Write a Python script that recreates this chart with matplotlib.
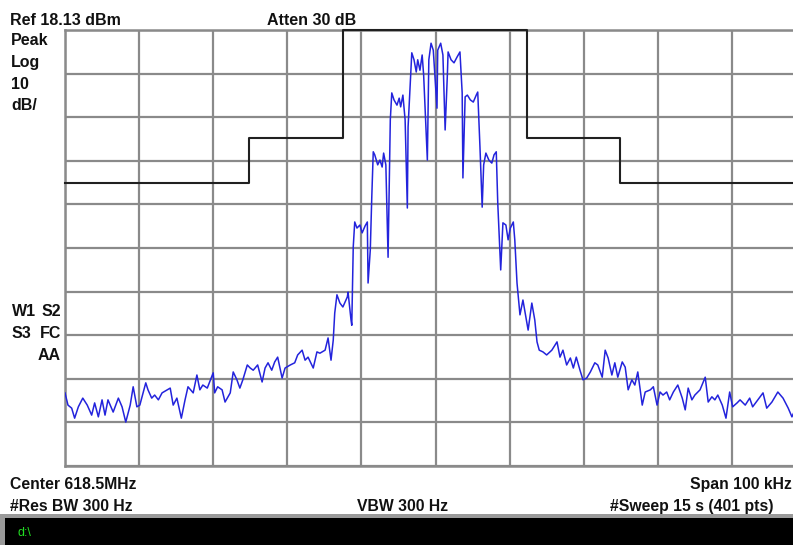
import matplotlib
import matplotlib.pyplot as plt
from matplotlib.patches import Rectangle

matplotlib.use("Agg")

# display settings of the analyser
ref_dbm = 18.13
db_per_div = 10
span_khz = 100

# trace readings (offset from centre in kHz, level in dBm)
left_floor_khz = [
    -50.0, -49.6, -49.1, -48.7, -48.2, -47.6, -47.0, -46.4, -46.0, -45.5, -45.0, -44.6, -44.2,
    -43.5, -42.8, -42.3, -41.8, -41.2, -40.8, -40.3, -39.9, -39.1, -38.8, -38.3, -37.9, -37.4,
    -36.9, -36.2, -35.8, -35.4, -34.9, -34.3, -33.8, -33.4, -32.7, -32.2, -31.8, -31.4, -30.8,
    -30.0, -29.8, -29.4, -28.8, -28.4, -27.7, -27.3, -26.8, -26.4, -26.0, -25.4, -25.0, -24.6,
    -24.0, -23.4, -23.0, -22.6, -22.1, -21.7, -21.3, -20.7, -20.3, -19.6, -19.0, -18.6, -18.0,
    -17.6, -17.2, -16.5, -16.0, -15.6, -14.9, -14.5, -14.1, -13.8,
]
left_floor_dbm = [
    -65.1, -67.9, -68.6, -70.9, -68.3, -66.3, -67.9, -70.2, -67.4, -70.6, -66.7, -70.2, -66.7,
    -69.5, -66.3, -68.3, -71.8, -67.9, -63.7, -68.3, -67.9, -62.8, -64.4, -66.3, -65.6, -66.7,
    -65.1, -64.4, -64.0, -67.9, -66.3, -70.9, -66.7, -63.7, -65.1, -61.0, -64.4, -63.3, -64.0,
    -60.5, -65.1, -63.7, -64.4, -67.2, -65.1, -60.3, -62.1, -64.0, -62.1, -58.7, -59.4, -59.9,
    -58.7, -62.6, -59.4, -58.2, -59.9, -58.0, -56.9, -61.7, -59.4, -58.7, -58.2, -56.4, -55.3,
    -57.6, -56.9, -59.4, -55.7, -56.0, -55.3, -52.5, -57.6, -53.0,
]
signal_khz = [
    -13.6, -13.3, -12.9, -12.5, -11.9, -11.8, -11.4, -11.3, -11.1, -10.9, -10.6, -10.2, -9.9,
    -9.5, -9.2, -9.1, -8.8, -8.6, -8.4, -8.2, -7.8, -7.5, -7.2, -7.0, -6.7, -6.4, -6.1, -5.9,
    -5.6, -5.2, -4.9, -4.7, -4.4, -4.1, -3.8, -3.7, -3.4, -3.2, -2.9, -2.6, -2.4, -2.1, -1.8,
    -1.6, -1.1, -0.9, -0.6, -0.3, -0.1, 0.2, 0.3, 0.7, 1.0, 1.3, 1.6, 1.7, 2.1, 2.5, 2.9, 3.3,
    3.6, 3.7, 4.0, 4.3, 4.7, 5.1, 5.5, 5.7, 6.0, 6.3, 6.5, 6.8, 7.2, 7.6, 7.9, 8.2, 8.4, 8.8,
    9.1, 9.5, 9.8, 10.1, 10.5, 10.7, 11.0, 11.4, 11.8, 12.5, 13.0, 13.4, 13.7,
]
signal_dbm = [
    -46.8, -42.6, -44.5, -45.4, -43.1, -42.0, -48.4, -49.6, -31.6, -25.9, -27.3, -26.6, -28.4,
    -26.8, -25.9, -39.9, -32.3, -20.2, -9.8, -10.5, -12.8, -11.7, -13.3, -10.1, -12.8, -34.0,
    -2.5, 3.7, 2.1, 0.9, 2.5, 0.5, 3.2, -2.5, -22.7, -4.1, 6.0, 12.9, 11.3, 8.5, 11.3, 8.9,
    12.4, 7.8, -11.7, 11.3, 15.1, 13.5, 8.3, 0.2, 13.5, 15.1, 12.4, -4.8, 7.8, 13.1, 11.3, 10.6,
    11.9, 13.1, 3.7, -15.8, 2.8, 3.2, 2.1, 1.6, 3.2, 3.9, -8.7, -22.5, -12.8, -10.1, -11.7,
    -12.4, -10.5, -9.8, -21.5, -36.9, -26.1, -26.6, -30.0, -27.3, -25.9, -30.0, -39.9, -47.2,
    -43.8, -50.7, -44.5, -48.4, -53.4,
]
right_floor_khz = [
    14.0, 14.5, 15.0, 15.7, 16.4, 16.8, 17.2, 17.7, 18.2, 18.6, 19.0, 19.5, 19.9, 20.4, 20.9,
    21.5, 21.9, 22.5, 22.9, 23.3, 23.8, 24.2, 24.6, 25.2, 25.6, 26.0, 26.5, 26.9, 27.3, 27.9,
    28.3, 29.0, 29.4, 29.9, 30.3, 30.7, 31.2, 31.6, 32.1, 32.7, 33.3, 33.7, 34.1, 34.6, 35.0,
    35.7, 36.4, 36.8, 37.3, 37.7, 38.1, 38.7, 39.2, 39.7, 40.1, 40.7, 41.1, 41.8, 42.4, 42.8,
    43.5, 44.2, 44.7, 45.4, 46.2, 46.9, 47.6, 48.1, 48.8, 49.5, 50.0,
]
right_floor_dbm = [
    -55.3, -55.7, -56.4, -55.3, -53.4, -56.9, -55.3, -58.7, -57.1, -59.4, -56.9, -59.9, -62.1,
    -61.7, -60.3, -58.2, -58.7, -61.5, -55.3, -57.1, -61.0, -58.2, -61.5, -58.0, -59.2, -64.4,
    -62.1, -63.3, -60.3, -67.9, -64.9, -64.4, -63.7, -67.9, -64.9, -65.6, -64.9, -66.7, -64.9,
    -63.3, -66.3, -69.0, -64.0, -66.7, -65.6, -64.4, -61.5, -67.2, -66.0, -66.7, -65.6, -67.9,
    -70.9, -64.9, -68.3, -67.4, -66.7, -67.9, -66.3, -68.3, -66.7, -65.1, -68.6, -67.2, -64.9,
    -66.3, -68.6, -70.6, -67.9, -66.7, -66.3,
]

# limit mask
mask_khz = [-50, -25.2, -25.2, -12.5, -12.5, 12.3, 12.3, 24.9, 24.9, 50]
mask_dbm = [-16.9, -16.9, -6.6, -6.6, 18.13, 18.13, -6.6, -6.6, -16.9, -16.9]

W, H = 793, 545


def fx(x):
    return x / W


def fy(y):
    return 1 - y / H


fig = plt.figure(figsize=(W / 100, H / 100), dpi=100)
fig.patch.set_facecolor("white")

# graticule runs 10 divisions from x=65 to x=806, so it is cut at the right edge
ax = fig.add_axes([fx(65), fy(466), 741 / W, 436 / H])
bottom = ref_dbm - 10 * db_per_div
ax.set_xlim(-span_khz / 2, span_khz / 2)
ax.set_ylim(bottom, ref_dbm)
ax.set_xticks([-span_khz / 2 + k * span_khz / 10 for k in range(11)])
ax.set_yticks([bottom + k * db_per_div for k in range(11)])
ax.tick_params(length=0, labelbottom=False, labelleft=False)
ax.grid(True, color="#8a8a8a", lw=1.6)
for s in ax.spines.values():
    s.set_color("#8a8a8a")
    s.set_linewidth(1.8)

trace_khz = left_floor_khz + signal_khz + right_floor_khz
trace_dbm = left_floor_dbm + signal_dbm + right_floor_dbm
ax.plot(mask_khz, mask_dbm, color="#202020", lw=1.5, clip_on=False, zorder=3)
ax.plot(trace_khz, trace_dbm, color="#2323dc", lw=1.1, zorder=4)

fam = ["Liberation Sans", "DejaVu Sans"]
top = dict(family=fam, fontsize=11.5, fontweight="bold", color="#111111", va="baseline")
low = dict(family=fam, fontsize=11.3, fontweight="bold", color="#111111", va="baseline")

fig.text(fx(10), fy(25), "Ref 18.13 dBm", **top)
fig.text(fx(267), fy(25), "Atten 30 dB", **top)
for y, s in [(45, "Peak"), (67, "Log"), (89, "10"), (110, "dB/")]:
    fig.text(fx(11), fy(y), s, **top)
fig.text(fx(12), fy(316), "W1", **top)
fig.text(fx(61), fy(316), "S2", ha="right", **top)
fig.text(fx(12), fy(338), "S3", **top)
fig.text(fx(61), fy(338), "FC", ha="right", **top)
fig.text(fx(61), fy(360), "AA", ha="right", **top)

fig.text(fx(10), fy(489), "Center 618.5MHz", **low)
fig.text(fx(690), fy(489), "Span 100 kHz", **low)
fig.text(fx(10), fy(511), "#Res BW 300 Hz", **low)
fig.text(fx(357), fy(511), "VBW 300 Hz", **low)
fig.text(fx(610), fy(511), "#Sweep 15 s (401 pts)", **low)

# command line bar at the bottom
fig.patches.append(Rectangle((0, 0), 1, fy(514), transform=fig.transFigure,
                             facecolor="#9a9a9a", edgecolor="none"))
fig.patches.append(Rectangle((fx(5), 0), 1, fy(518), transform=fig.transFigure,
                             facecolor="black", edgecolor="none"))
fig.text(fx(18), fy(536), "d:\\", family=fam, fontsize=9, color="#22dd22", va="baseline")

fig.savefig("out.png", dpi=100)
plt.close(fig)
